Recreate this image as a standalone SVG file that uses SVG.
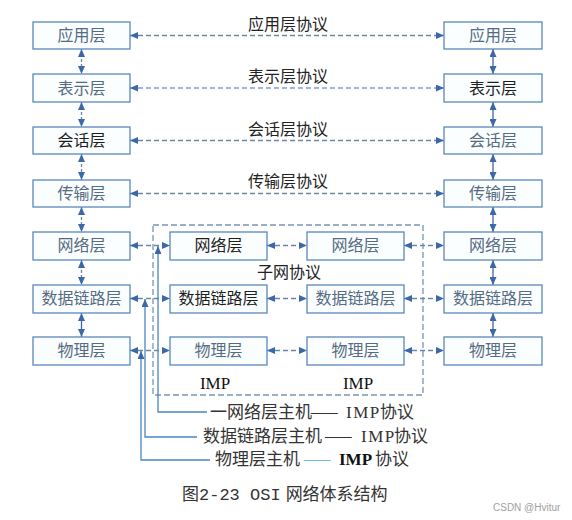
<svg xmlns="http://www.w3.org/2000/svg" width="572" height="520" viewBox="0 0 572 520">
<defs>
<marker id="ah" viewBox="0 0 8 7" refX="8" refY="3.5" markerWidth="8" markerHeight="7" markerUnits="userSpaceOnUse" orient="auto-start-reverse">
<path d="M0,0 L8,3.5 L0,7 z" fill="#3d68a8"/>
</marker>
</defs>
<style>
.box{fill:#fbfeff;stroke:#5a87bb;stroke-width:1.3}
.lb{font-family:"Noto Sans CJK SC","Noto Sans",sans-serif;font-size:16px;text-anchor:middle;fill:#556b82}
.dk{fill:#1e1e1e}
.pl{font-family:"Noto Sans CJK SC","Noto Sans",sans-serif;font-size:16px;text-anchor:middle;fill:#222}
.dash{stroke:#6a86a8;stroke-width:1.3;stroke-dasharray:5,3;fill:none}
.sol{stroke:#3d68a8;stroke-width:1.3;fill:none}
.vl{stroke:#4a86c0;stroke-width:1.3;fill:none}
.imp{font-family:"Liberation Serif",serif;font-size:17px;text-anchor:middle;fill:#111}
.bt{font-family:"Noto Sans CJK SC","Noto Sans",sans-serif;font-size:17px;fill:#333}
.ser{font-family:"Liberation Serif",serif}
</style>
<rect width="572" height="520" fill="#ffffff"/>

<g id="enclosure">
<rect x="153" y="225" width="270" height="170" fill="none" stroke="#7a94b2" stroke-width="1.3" stroke-dasharray="6,3"/>
</g>

<g id="connectors">
<line class="dash" x1="130" y1="35.5" x2="444" y2="35.5" marker-start="url(#ah)" marker-end="url(#ah)"/>
<line class="dash" x1="130" y1="88" x2="444" y2="88" marker-start="url(#ah)" marker-end="url(#ah)" style="stroke:#7f9fd0"/>
<line class="dash" x1="130" y1="140.5" x2="444" y2="140.5" marker-start="url(#ah)" marker-end="url(#ah)"/>
<line class="dash" x1="130" y1="193.5" x2="444" y2="193.5" marker-start="url(#ah)" marker-end="url(#ah)"/>
<line class="dash" x1="130" y1="245.5" x2="170" y2="245.5" marker-start="url(#ah)" marker-end="url(#ah)"/>
<line class="dash" x1="267" y1="245.5" x2="307" y2="245.5" marker-start="url(#ah)" marker-end="url(#ah)"/>
<line class="dash" x1="404" y1="245.5" x2="444" y2="245.5" marker-start="url(#ah)" marker-end="url(#ah)"/>
<line class="dash" x1="130" y1="298.5" x2="170" y2="298.5" marker-start="url(#ah)" marker-end="url(#ah)"/>
<line class="dash" x1="267" y1="298.5" x2="307" y2="298.5" marker-start="url(#ah)" marker-end="url(#ah)"/>
<line class="dash" x1="404" y1="298.5" x2="444" y2="298.5" marker-start="url(#ah)" marker-end="url(#ah)"/>
<line class="dash" x1="130" y1="350.5" x2="170" y2="350.5" marker-start="url(#ah)" marker-end="url(#ah)"/>
<line class="dash" x1="267" y1="350.5" x2="307" y2="350.5" marker-start="url(#ah)" marker-end="url(#ah)"/>
<line class="dash" x1="404" y1="350.5" x2="444" y2="350.5" marker-start="url(#ah)" marker-end="url(#ah)"/>
<line class="dash" x1="81.5" y1="49" x2="81.5" y2="74" marker-start="url(#ah)" marker-end="url(#ah)" style="stroke-dasharray:3,2"/>
<line class="dash" x1="81.5" y1="102" x2="81.5" y2="127" marker-start="url(#ah)" marker-end="url(#ah)" style="stroke-dasharray:3,2"/>
<line class="dash" x1="81.5" y1="154" x2="81.5" y2="180" marker-start="url(#ah)" marker-end="url(#ah)" style="stroke-dasharray:3,2"/>
<line class="dash" x1="81.5" y1="207" x2="81.5" y2="232" marker-start="url(#ah)" marker-end="url(#ah)" style="stroke-dasharray:3,2"/>
<line class="dash" x1="81.5" y1="260" x2="81.5" y2="285" marker-start="url(#ah)" marker-end="url(#ah)" style="stroke-dasharray:3,2"/>
<line class="sol" x1="81.5" y1="313" x2="81.5" y2="337" marker-start="url(#ah)" marker-end="url(#ah)"/>
<line class="sol" x1="493" y1="49" x2="493" y2="74" marker-start="url(#ah)" marker-end="url(#ah)"/>
<line class="sol" x1="493" y1="102" x2="493" y2="127" marker-start="url(#ah)" marker-end="url(#ah)"/>
<line class="sol" x1="493" y1="154" x2="493" y2="180" marker-start="url(#ah)" marker-end="url(#ah)"/>
<line class="sol" x1="493" y1="207" x2="493" y2="232" marker-start="url(#ah)" marker-end="url(#ah)"/>
<line class="sol" x1="493" y1="260" x2="493" y2="285" marker-start="url(#ah)" marker-end="url(#ah)"/>
<line class="sol" x1="493" y1="313" x2="493" y2="337" marker-start="url(#ah)" marker-end="url(#ah)"/>
<polyline class="vl" points="207,412 158,412 158,246" marker-end="url(#ah)"/>
<polyline class="vl" points="197,437 145,437 145,299" marker-end="url(#ah)"/>
<polyline class="vl" points="210,460 141,460 141,351" marker-end="url(#ah)"/>
</g>

<g id="left-app"><rect class="box" x="33" y="22" width="97" height="27"/><text class="lb" x="81.5" y="41">应用层</text></g>
<g id="left-pres"><rect class="box" x="33" y="74" width="97" height="28"/><text class="lb" x="81.5" y="94">表示层</text></g>
<g id="left-sess"><rect class="box" x="33" y="127" width="97" height="27"/><text class="lb dk" x="81.5" y="146">会话层</text></g>
<g id="left-trans"><rect class="box" x="33" y="180" width="97" height="27"/><text class="lb" x="81.5" y="199">传输层</text></g>
<g id="left-net"><rect class="box" x="33" y="232" width="97" height="28"/><text class="lb" x="81.5" y="251">网络层</text></g>
<g id="left-link"><rect class="box" x="33" y="285" width="97" height="28"/><text class="lb" x="81.5" y="304">数据链路层</text></g>
<g id="left-phy"><rect class="box" x="33" y="337" width="97" height="28"/><text class="lb" x="81.5" y="356">物理层</text></g>

<g id="right-app"><rect class="box" x="444" y="22" width="98" height="27"/><text class="lb" x="493" y="41">应用层</text></g>
<g id="right-pres"><rect class="box" x="444" y="74" width="98" height="28"/><text class="lb dk" x="493" y="94">表示层</text></g>
<g id="right-sess"><rect class="box" x="444" y="127" width="98" height="27"/><text class="lb" x="493" y="146">会话层</text></g>
<g id="right-trans"><rect class="box" x="444" y="180" width="98" height="27"/><text class="lb" x="493" y="199">传输层</text></g>
<g id="right-net"><rect class="box" x="444" y="232" width="98" height="28"/><text class="lb" x="493" y="251">网络层</text></g>
<g id="right-link"><rect class="box" x="444" y="285" width="98" height="28"/><text class="lb" x="493" y="304">数据链路层</text></g>
<g id="right-phy"><rect class="box" x="444" y="337" width="98" height="28"/><text class="lb" x="493" y="356">物理层</text></g>

<g id="imp1-net"><rect class="box" x="170" y="232" width="97" height="28"/><text class="lb dk" x="218.5" y="251">网络层</text></g>
<g id="imp1-link"><rect class="box" x="170" y="285" width="97" height="28"/><text class="lb dk" x="218.5" y="304">数据链路层</text></g>
<g id="imp1-phy"><rect class="box" x="170" y="337" width="97" height="28"/><text class="lb" x="218.5" y="356">物理层</text></g>

<g id="imp2-net"><rect class="box" x="307" y="232" width="97" height="28"/><text class="lb" x="355.5" y="251">网络层</text></g>
<g id="imp2-link"><rect class="box" x="307" y="285" width="97" height="28"/><text class="lb" x="355.5" y="304">数据链路层</text></g>
<g id="imp2-phy"><rect class="box" x="307" y="337" width="97" height="28"/><text class="lb" x="355.5" y="356">物理层</text></g>

<g id="labels">
<text class="pl" x="288" y="30">应用层协议</text>
<text class="pl" x="288" y="82">表示层协议</text>
<text class="pl" x="288" y="135">会话层协议</text>
<text class="pl" x="288" y="187">传输层协议</text>
<text class="pl" x="289" y="278">子网协议</text>
<text class="imp" x="215" y="389">IMP</text>
<text class="imp" x="358" y="389">IMP</text>
<text class="bt" x="210" y="418">一网络层主机<tspan x="310">——</tspan><tspan class="ser" x="346" letter-spacing="1.5">IMP</tspan><tspan x="380">协议</tspan></text>
<text class="bt" x="203" y="442">数据链路层主机<tspan x="324">——</tspan><tspan class="ser" x="361" letter-spacing="1.5">IMP</tspan><tspan x="394">协议</tspan></text>
<text class="bt" x="215" y="465">物理层主机<tspan x="303" fill="#6cc3e6">——</tspan><tspan class="ser" x="339" font-weight="bold" fill="#111">IMP</tspan><tspan x="375">协议</tspan></text>
<text x="182" y="500" font-family="Liberation Mono,monospace" font-size="17" fill="#333"><tspan font-family="Noto Sans CJK SC,sans-serif">图</tspan>2-23 OSI<tspan font-family="Noto Sans CJK SC,sans-serif" dx="5">网络体系结构</tspan></text>
<text x="493" y="511" font-family="Liberation Sans,sans-serif" font-size="10" fill="#a0a0a0">CSDN @Hvitur</text>
</g>
</svg>
